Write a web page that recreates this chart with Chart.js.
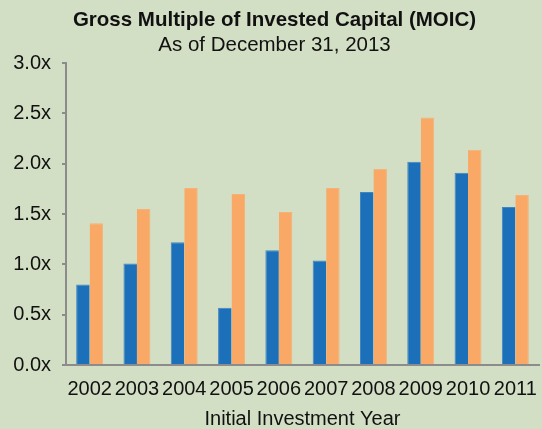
<!DOCTYPE html>
<html>
<head>
<meta charset="utf-8">
<script src="https://cdn.jsdelivr.net/npm/chart.js@4.4.1/dist/chart.umd.min.js"></script>
<style>
  html, body { margin: 0; padding: 0; background: #d3dfc5; }
  #wrap { width: 542px; height: 429px; }
</style>
</head>
<body>
<div id="wrap"><canvas id="moicChart" width="542" height="429"></canvas></div>
<script>
// values
const years = ['2002', '2003', '2004', '2005', '2006', '2007', '2008', '2009', '2010', '2011'];
const seriesBlue = [0.80, 1.01, 1.22, 0.57, 1.14, 1.04, 1.72, 2.02, 1.91, 1.57];
const seriesOrange = [1.41, 1.55, 1.76, 1.70, 1.52, 1.76, 1.95, 2.46, 2.14, 1.69];
const yTicks = [0, 0.5, 1.0, 1.5, 2.0, 2.5, 3.0];

const fontFamily = '"Liberation Sans", Arial, sans-serif';
const axisGray = '#8c8c8c';

const ctx = document.getElementById('moicChart').getContext('2d');
const chart = new Chart(ctx, {
    type: 'bar',
    data: {
        labels: years,
        datasets: [{
            label: 'Series 1',
            data: seriesBlue,
            backgroundColor: '#1b70b9',
            borderColor: '#3f86c2',
            borderWidth: { top: 1, left: 1, right: 0, bottom: 0 },
            borderSkipped: 'bottom',
            categoryPercentage: 0.57,
            barPercentage: 1.0
        }, {
            label: 'Series 2',
            data: seriesOrange,
            backgroundColor: '#f9a865',
            borderColor: '#f4b27a',
            borderWidth: { top: 1, left: 0, right: 1, bottom: 0 },
            borderSkipped: 'bottom',
            categoryPercentage: 0.57,
            barPercentage: 1.0
        }]
    },
    options: {
        responsive: false,
        animation: false,
        layout: {
            padding: { left: 10, right: 3, top: 0, bottom: 0 }
        },
        plugins: {
            legend: { display: false },
            tooltip: { enabled: false },
            title: {
                display: true,
                text: 'Gross Multiple of Invested Capital (MOIC)',
                color: '#111',
                font: { family: fontFamily, size: 20.5, weight: 'bold', lineHeight: 1.2 },
                padding: { top: 8, bottom: 0 }
            },
            subtitle: {
                display: true,
                text: 'As of December 31, 2013',
                color: '#111',
                font: { family: fontFamily, size: 20.5, lineHeight: 1.2 },
                padding: { top: 0, bottom: 6 }
            }
        },
        scales: {
            x: {
                afterFit: function(scale) {
                    scale.height = 64;
                    scale.paddingLeft = 0;
                    scale.paddingRight = 0;
                },
                grid: { display: false, drawTicks: false },
                border: { display: true, color: axisGray, width: 2 },
                ticks: {
                    color: '#111',
                    font: { family: fontFamily, size: 20 },
                    padding: 12,
                    maxRotation: 0,
                    autoSkip: false
                },
                title: {
                    display: true,
                    text: 'Initial Investment Year',
                    color: '#111',
                    font: { family: fontFamily, size: 20, lineHeight: 1 },
                    padding: { top: 9, bottom: 0 }
                }
            },
            y: {
                min: 0,
                max: 3,
                afterBuildTicks: function(scale) {
                    scale.ticks = yTicks.map(v => ({ value: v }));
                },
                afterFit: function(scale) {
                    scale.width = 56;
                },
                grid: {
                    display: true,
                    drawOnChartArea: false,
                    drawTicks: true,
                    tickLength: 4,
                    color: axisGray,
                    lineWidth: 2
                },
                border: { display: true, color: axisGray, width: 2 },
                ticks: {
                    color: '#111',
                    font: { family: fontFamily, size: 20 },
                    padding: 11,
                    callback: function(value) {
                        return Number(value).toFixed(1) + 'x';
                    }
                }
            }
        }
    }
});
</script>
</body>
</html>
